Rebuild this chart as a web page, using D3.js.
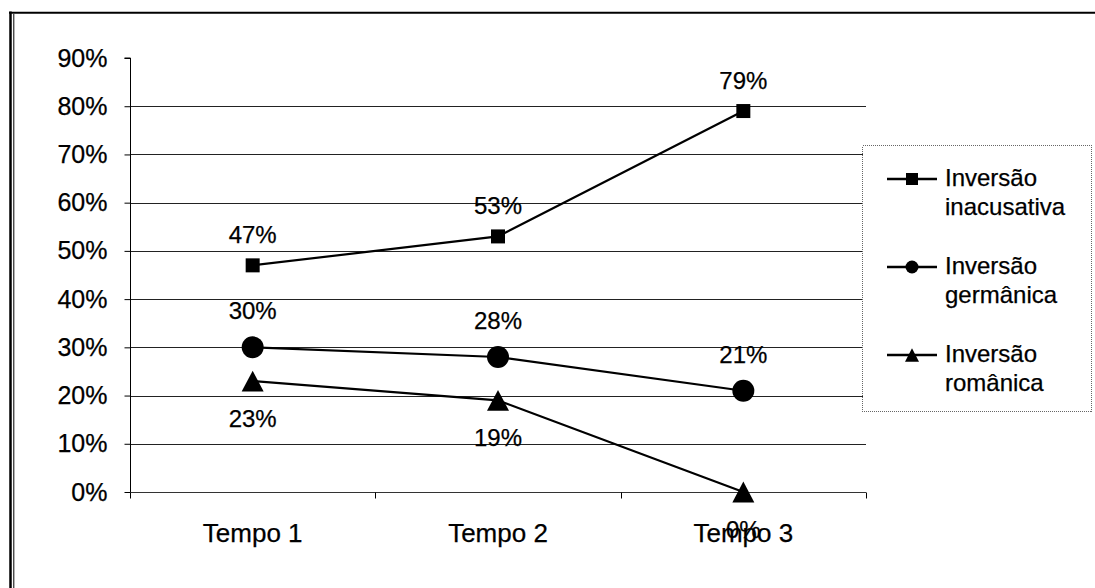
<!DOCTYPE html>
<html>
<head>
<meta charset="utf-8">
<script src="https://cdn.jsdelivr.net/npm/d3@7"></script>
<style>
  html, body { margin: 0; padding: 0; background: #fff; }
  svg { display: block; font-family: "Liberation Sans", Arial, sans-serif; }
  text { stroke: #000; stroke-width: 0.25px; }
</style>
</head>
<body>
<svg id="chart" width="1095" height="588"></svg>
<script>
const categories = ["Tempo 1", "Tempo 2", "Tempo 3"];
const seriesNames = [["Inversão", "inacusativa"], ["Inversão", "germânica"], ["Inversão", "românica"]];
const inacusativa = [0.47, 0.53, 0.79];
const germanica = [0.30, 0.28, 0.21];
const romanica = [0.23, 0.19, 0.00];
const yTicks = [0, 0.1, 0.2, 0.3, 0.4, 0.5, 0.6, 0.7, 0.8, 0.9];

const series = [
  { names: seriesNames[0], values: inacusativa, marker: "square" },
  { names: seriesNames[1], values: germanica, marker: "circle" },
  { names: seriesNames[2], values: romanica, marker: "triangle" }
];

const svg = d3.select("#chart");
const pLeft = 130, pRight = 866, pTop = 58, pBottom = 492;

const x = d3.scaleBand().domain(categories).range([pLeft, pRight]).padding(0);
const y = d3.scaleLinear().domain([0, 0.9]).range([pBottom, pTop]);
const fmt = d3.format(".0%");

// outer border (double on left, single on top)
svg.append("line").attr("x1", 10.5).attr("x2", 10.5).attr("y1", 11.5).attr("y2", 588)
  .attr("stroke", "#000").attr("stroke-width", 2.5);
svg.append("line").attr("x1", 9).attr("x2", 1095).attr("y1", 12.75).attr("y2", 12.75)
  .attr("stroke", "#000").attr("stroke-width", 2);
svg.append("line").attr("x1", 13.8).attr("x2", 13.8).attr("y1", 14).attr("y2", 588)
  .attr("stroke", "#000").attr("stroke-width", 1);

// gridlines
svg.append("g").selectAll("line")
  .data(yTicks.filter(d => d > 0 && d < 0.9))
  .join("line")
  .attr("x1", pLeft).attr("x2", pRight)
  .attr("y1", d => Math.round(y(d)) + 0.5).attr("y2", d => Math.round(y(d)) + 0.5)
  .attr("stroke", "#222").attr("stroke-width", 1);

// y axis
const yAxis = d3.axisLeft(y).tickValues(yTicks).tickFormat(fmt).tickSize(6).tickPadding(17);
const gy = svg.append("g").attr("transform", `translate(${pLeft + 0.5},0)`).call(yAxis);
gy.select(".domain").attr("stroke", "#000").attr("d", `M-6,${pTop}H0V${pBottom}`);
gy.selectAll(".tick line").attr("stroke", "#000");
gy.selectAll(".tick text").attr("font-size", 25).attr("fill", "#000")
  .attr("font-family", "Liberation Sans, Arial, sans-serif");

// x axis
const xAxis = d3.axisBottom(x).tickSize(0).tickPadding(0);
const gx = svg.append("g").attr("transform", `translate(0,${pBottom + 0.5})`).call(xAxis);
gx.select(".domain").attr("stroke", "#333").attr("d", `M${pLeft},0H${pRight}`);
gx.selectAll(".tick text").attr("font-size", 26).attr("fill", "#000")
  .attr("font-family", "Liberation Sans, Arial, sans-serif")
  .attr("dy", null).attr("y", 49);
const edges = categories.map(c => x(c)).concat([x(categories[categories.length - 1]) + x.bandwidth()]);
gx.selectAll(".edge").data(edges).join("line").attr("class", "edge")
  .attr("x1", d => Math.round(d) + 0.5).attr("x2", d => Math.round(d) + 0.5)
  .attr("y1", 0).attr("y2", 6).attr("stroke", "#000");

const cx = c => x(c) + x.bandwidth() / 2;
const line = d3.line().x((d, i) => cx(categories[i])).y(d => y(d));

function drawMarker(g, type, px, py, size) {
  if (type === "square") {
    g.append("rect").attr("x", px - size / 2).attr("y", py - size / 2)
      .attr("width", size).attr("height", size).attr("fill", "#000");
  } else if (type === "circle") {
    g.append("circle").attr("cx", px).attr("cy", py).attr("r", size / 2).attr("fill", "#000");
  } else {
    const h = size * 0.95;
    g.append("path").attr("d", `M${px},${py - h / 2}L${px + size / 2},${py + h / 2}L${px - size / 2},${py + h / 2}Z`)
      .attr("fill", "#000");
  }
}

const markerSize = { square: 14, circle: 22, triangle: 22 };
const labelOffset = { square: -22, circle: -28, triangle: 46 };

series.forEach(s => {
  const g = svg.append("g");
  g.append("path").datum(s.values).attr("d", line)
    .attr("fill", "none").attr("stroke", "#000").attr("stroke-width", 2.2);
  s.values.forEach((v, i) => {
    drawMarker(g, s.marker, cx(categories[i]), y(v), markerSize[s.marker]);
  });
  g.selectAll("text.lbl").data(s.values).join("text").attr("class", "lbl")
    .attr("x", (d, i) => cx(categories[i]))
    .attr("y", d => y(d) + labelOffset[s.marker])
    .attr("text-anchor", "middle").attr("font-size", 24).attr("fill", "#000")
    .text(d => fmt(d));
});

// legend
const lg = svg.append("g");
lg.append("rect").attr("x", 862.5).attr("y", 145.5).attr("width", 229).attr("height", 266)
  .attr("fill", "#fff").attr("stroke", "#666").attr("stroke-width", 1)
  .attr("stroke-dasharray", "1,1").attr("shape-rendering", "crispEdges");
const legendMarker = { square: 12, circle: 13, triangle: 14 };
series.forEach((s, i) => {
  const ly = 179 + i * 88;
  lg.append("line").attr("x1", 887).attr("x2", 937).attr("y1", ly).attr("y2", ly)
    .attr("stroke", "#000").attr("stroke-width", 2.5);
  drawMarker(lg, s.marker, 912, ly, legendMarker[s.marker]);
  const t = lg.append("text").attr("x", 945).attr("y", ly + 7).attr("font-size", 24).attr("fill", "#000");
  s.names.forEach((n, j) => {
    t.append("tspan").attr("x", 945).attr("dy", j === 0 ? 0 : 29).text(n);
  });
});
</script>
</body>
</html>
